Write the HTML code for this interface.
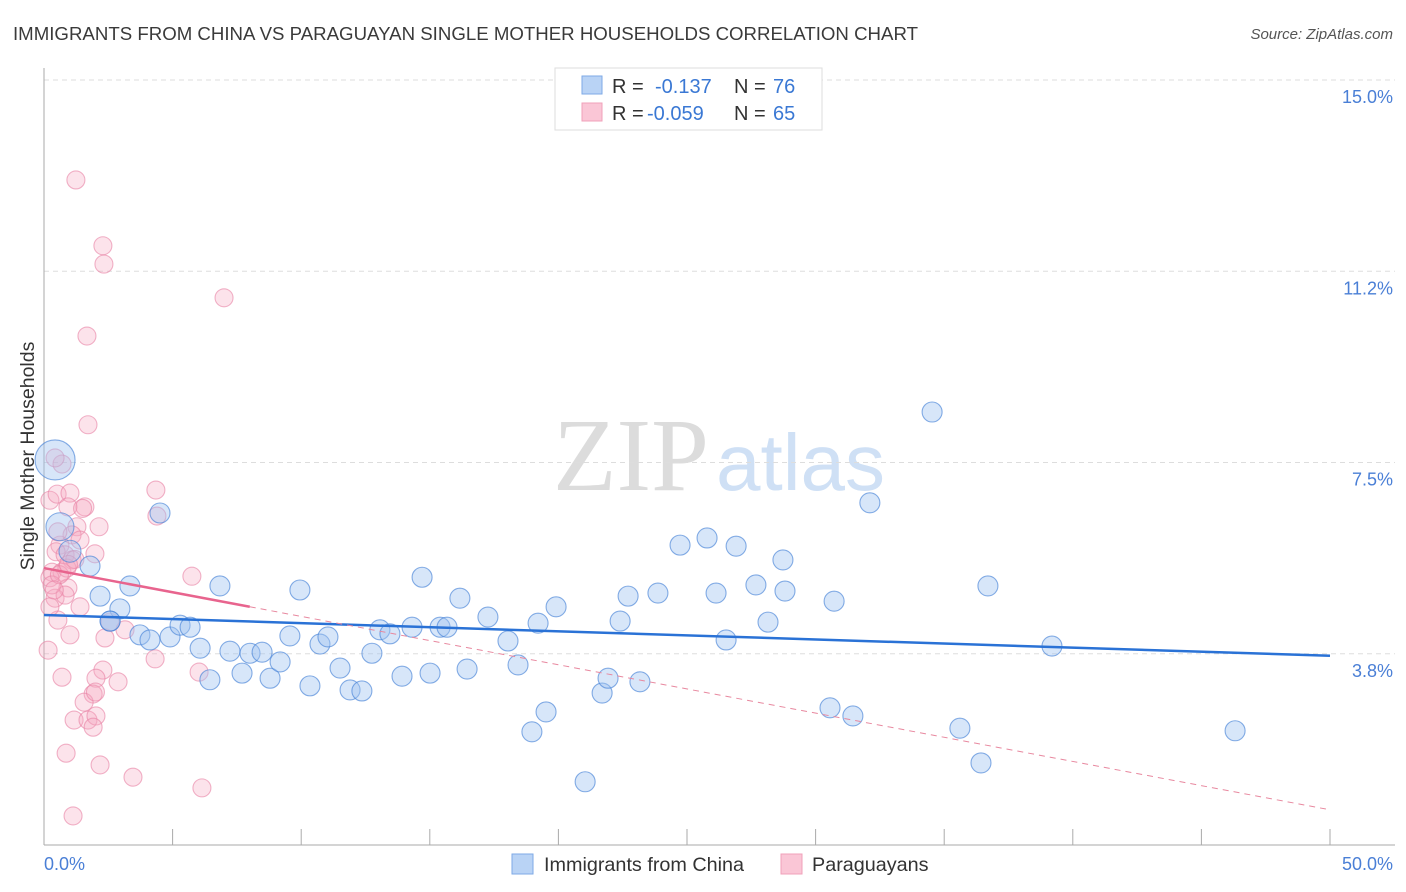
<!DOCTYPE html>
<html><head><meta charset="utf-8"><style>
body{margin:0;background:#fff;font-family:"Liberation Sans",sans-serif;}
svg{display:block}
</style></head><body>
<svg id="chart" width="1406" height="892" viewBox="0 0 1406 892" xmlns="http://www.w3.org/2000/svg">
<text x="13" y="40" font-size="18" fill="#3a3a3a" textLength="905" lengthAdjust="spacingAndGlyphs">IMMIGRANTS FROM CHINA VS PARAGUAYAN SINGLE MOTHER HOUSEHOLDS CORRELATION CHART</text>
<text x="1393" y="39" font-size="15" fill="#555" text-anchor="end" font-style="italic">Source: ZipAtlas.com</text>
<g>
<text x="553" y="490" font-size="104" font-family="Liberation Serif,serif" fill="#dcdcdc">ZIP</text>
<text x="716" y="490" font-size="80" fill="#cfe0f5">atlas</text>
</g>
<g id="grid"></g>
<g id="axes"></g>
<g id="pts"></g>
<g id="trends"></g>
<text transform="translate(34,456) rotate(-90)" font-size="19.5" fill="#333" text-anchor="middle">Single Mother Households</text>
<g>
<rect x="555" y="68" width="267" height="62" fill="#fff" stroke="#ddd"/>
<rect x="582" y="76" width="20" height="18" fill="#b9d3f5" stroke="#7eaae6"/>
<rect x="582" y="103" width="20" height="18" fill="#fac6d6" stroke="#f0a0ba"/>
<text x="612" y="93" font-size="20" fill="#333">R = </text><text x="655" y="93" font-size="20" fill="#3a78d4">-0.137</text>
<text x="734" y="93" font-size="20" fill="#333">N = </text><text x="773" y="93" font-size="20" fill="#3a78d4">76</text>
<text x="612" y="120" font-size="20" fill="#333">R = </text><text x="647" y="120" font-size="20" fill="#3a78d4">-0.059</text>
<text x="734" y="120" font-size="20" fill="#333">N = </text><text x="773" y="120" font-size="20" fill="#3a78d4">65</text>
</g>
<g>
<rect x="512" y="854" width="21" height="20" fill="#b9d3f5" stroke="#7eaae6"/>
<text x="544" y="871" font-size="19.8" fill="#333">Immigrants from China</text>
<rect x="781" y="854" width="21" height="20" fill="#fac6d6" stroke="#f0a0ba"/>
<text x="812" y="871" font-size="19.8" fill="#333">Paraguayans</text>
</g>
</svg>
<script>
const yTicks=[3.75,7.5,11.25,15];
const yTickLabels=["3.8%","7.5%","11.2%","15.0%"];
const xTickLabels=["0.0%","50.0%"];
const chinaX=[4.51,3.34,2.18,2.95,2.57,3.73,4.12,4.90,5.29,5.68,6.07,6.45,6.84,7.23,7.70,8.01,8.48,8.79,9.18,9.56,9.95,10.34,10.73,11.04,11.51,11.90,12.36,12.75,13.06,13.45,13.92,14.31,14.70,15.01,15.40,15.67,16.17,16.45,17.26,18.04,18.43,18.97,19.21,19.52,19.91,21.04,21.70,21.93,22.40,22.71,23.17,23.87,24.73,25.78,26.13,26.52,26.91,27.68,28.15,28.73,28.81,30.56,30.72,31.45,32.11,34.53,35.61,36.43,36.70,39.19,46.31,0.43,0.62,1.01,1.79,2.57];
const chinaY=[6.51,5.08,4.88,4.63,4.39,4.12,4.02,4.08,4.31,4.27,3.86,3.24,5.08,3.80,3.37,3.76,3.78,3.27,3.59,4.10,5.00,3.12,3.94,4.08,3.47,3.04,3.02,3.76,4.22,4.14,3.31,4.27,5.25,3.37,4.27,4.27,4.84,3.45,4.47,4.00,3.53,2.22,4.35,2.61,4.67,1.24,2.98,3.27,4.39,4.88,3.20,4.94,5.88,6.02,4.94,4.02,5.86,5.10,4.37,5.59,4.98,2.69,4.78,2.53,6.71,8.49,2.29,1.61,5.08,3.90,2.24,7.55,6.24,5.76,5.47,4.39];
const chinaR=[10,10,10,10,10,10,10,10,10,10,10,10,10,10,10,10,10,10,10,10,10,10,10,10,10,10,10,10,10,10,10,10,10,10,10,10,10,10,10,10,10,10,10,10,10,10,10,10,10,10,10,10,10,10,10,10,10,10,10,10,10,10,10,10,10,10,10,10,10,10,10,20,14,11,10,10];
const parX=[1.24,2.29,2.33,7.00,1.67,1.71,0.70,0.43,4.35,4.39,0.23,0.51,1.01,1.59,0.93,1.28,2.14,1.09,0.62,0.47,0.82,1.09,1.98,0.31,0.70,0.23,0.93,0.43,1.40,0.54,1.01,2.37,3.15,2.57,4.32,5.75,6.03,2.29,0.70,2.02,2.88,1.91,1.56,1.17,1.71,2.02,1.91,0.86,2.18,3.46,6.14,1.13,0.23,0.16,0.82,0.89,1.40,0.54,0.31,1.20,0.60,2.00,0.40,1.50,0.95];
const parY=[13.04,11.75,11.39,10.73,9.98,8.24,7.47,7.59,6.96,6.45,6.76,6.88,6.90,6.63,6.63,6.24,6.24,6.08,5.88,5.75,5.69,5.59,5.71,5.35,5.35,5.24,5.04,4.84,4.67,4.41,4.12,4.06,4.22,4.37,3.65,5.27,3.39,3.43,3.29,3.27,3.20,2.96,2.80,2.45,2.45,2.53,2.31,1.80,1.57,1.33,1.12,0.57,4.67,3.82,4.90,5.43,5.98,6.14,5.10,5.60,5.30,3.00,5.00,6.60,5.50];
const trendChina=[4.51,3.71];   // value at x=0, x=50
const trendPar=[5.43,0.69];     // value at x=0, x=50
const parSolidEnd=8.0;

const X0=44,X1=1330,Y0=845,Y15=80;
const sx=v=>X0+(v/50)*(X1-X0);
const sy=v=>Y0-(v/15)*(Y0-Y15);
const NS="http://www.w3.org/2000/svg";
function mk(tag,attrs,parent){const e=document.createElementNS(NS,tag);for(const k in attrs)e.setAttribute(k,attrs[k]);parent.appendChild(e);return e;}
const grid=document.getElementById('grid'),axes=document.getElementById('axes'),pts=document.getElementById('pts'),tr=document.getElementById('trends');
let gl=mk('line',{x1:X0,x2:1395,y1:Y15,y2:Y15,stroke:'#ddd','stroke-dasharray':'5,4'},grid);


yTicks.forEach((t,i)=>{
  const l=mk('line',{x1:X0,x2:1395,y1:sy(t),y2:sy(t),stroke:'#ddd','stroke-dasharray':'5,4'},grid);
  
  
  const tx=mk('text',{x:1393,y:sy(t)+23,'font-size':18,fill:'#4a7fd6','text-anchor':'end'},axes);
  tx.textContent=yTickLabels[i];
  
  
});
let ax=mk('line',{x1:X0,x2:X0,y1:68,y2:Y0,stroke:'#aaa'},axes);


let bx=mk('line',{x1:X0,x2:1395,y1:Y0,y2:Y0,stroke:'#aaa'},axes);


for(let v=5;v<=50;v+=5){
  const t=mk('line',{x1:sx(v),x2:sx(v),y1:829,y2:Y0,stroke:'#aaa'},axes);
  
  
}
[[0,'start',44],[50,'end',1393]].forEach((a,i)=>{
  const t=mk('text',{x:a[2],y:870,'font-size':18,fill:'#4a7fd6','text-anchor':a[1]},axes);
  t.textContent=xTickLabels[i];
  
  
});
parX.forEach((x,i)=>{
  const c=mk('circle',{cx:sx(x),cy:sy(parY[i]),r:9,fill:'rgba(246,168,194,0.32)',stroke:'rgba(232,128,164,0.6)','stroke-width':1.1},pts);
  
  
});
chinaX.forEach((x,i)=>{
  const c=mk('circle',{cx:sx(x),cy:sy(chinaY[i]),r:chinaR[i],fill:'rgba(160,196,240,0.42)',stroke:'rgba(70,130,215,0.65)','stroke-width':1.1},pts);
  
  
});
const ly=(t,x)=>t[0]+(t[1]-t[0])*x/50;
let t1=mk('line',{x1:sx(0),y1:sy(ly(trendChina,0)),x2:sx(50),y2:sy(ly(trendChina,50)),stroke:'#2a72d6','stroke-width':2.5},tr);


let t2=mk('line',{x1:sx(0),y1:sy(ly(trendPar,0)),x2:sx(parSolidEnd),y2:sy(ly(trendPar,parSolidEnd)),stroke:'#e8648e','stroke-width':2.5},tr);


let t3=mk('line',{x1:sx(parSolidEnd),y1:sy(ly(trendPar,parSolidEnd)),x2:sx(50),y2:sy(ly(trendPar,50)),stroke:'#e8889f','stroke-width':1,'stroke-dasharray':'6,5'},tr);


</script>
</body></html>
